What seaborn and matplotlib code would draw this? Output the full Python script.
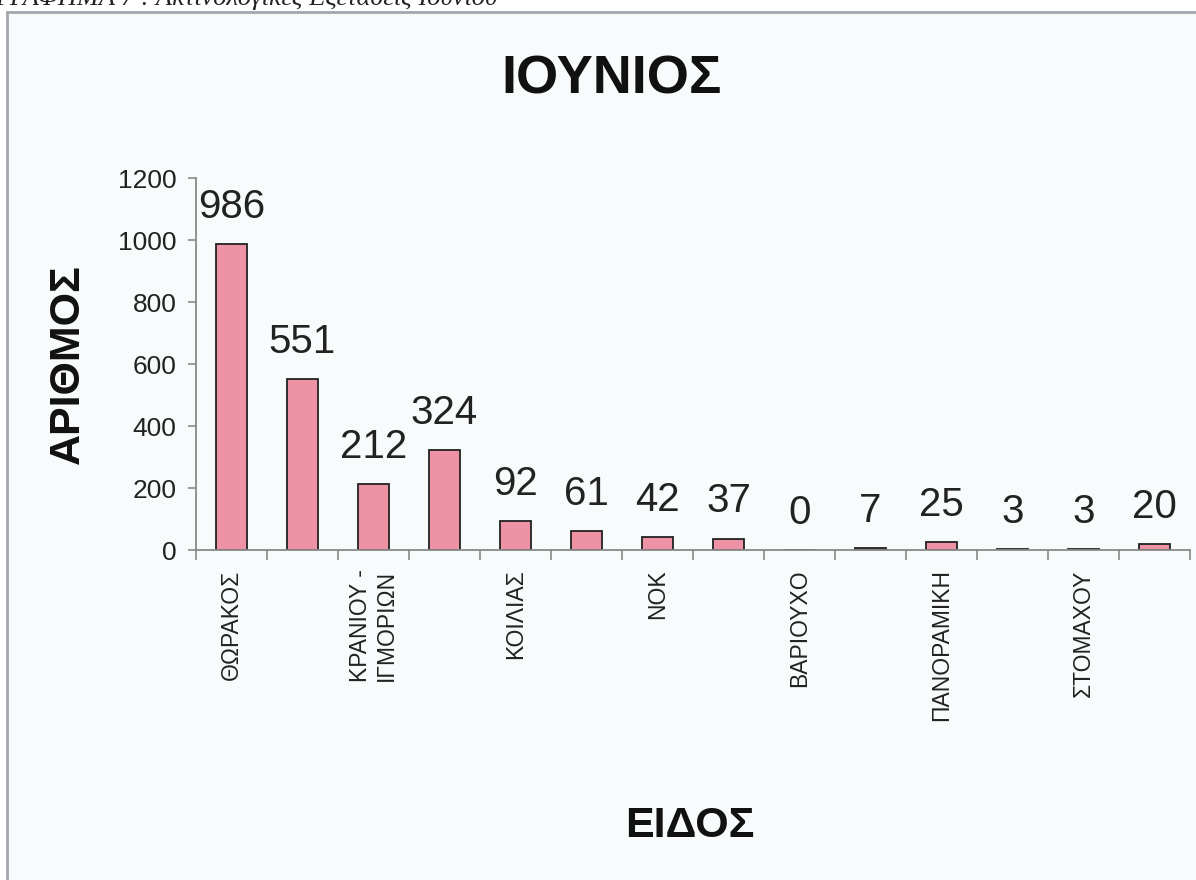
import matplotlib
matplotlib.use("Agg")
import matplotlib.pyplot as plt
from matplotlib.patches import Rectangle
import seaborn as sns
import pandas as pd

# values (June radiology exams)
counts = [986, 551, 212, 324, 92, 61, 42, 37, 0, 7, 25, 3, 3, 20]
# only every other category name is printed on the original axis
tick_labels = ["ΘΩΡΑΚΟΣ", "", "ΚΡΑΝΙΟΥ -\nΙΓΜΟΡΙΩΝ", "", "ΚΟΙΛΙΑΣ", "", "ΝΟΚ", "",
               "ΒΑΡΙΟΥΧΟ", "", "ΠΑΝΟΡΑΜΙΚΗ", "", "ΣΤΟΜΑΧΟΥ", ""]
y_ticks = [0, 200, 400, 600, 800, 1000, 1200]

bar_color = "#ee92a5"
axis_grey = "#8a8a8a"

sns.set_theme(style="white")
plt.rcParams['font.family'] = ['Liberation Sans', 'DejaVu Sans']

df = pd.DataFrame({"pos": list(range(len(counts))), "count": counts})

fig = plt.figure(figsize=(11.96, 8.8), dpi=100, facecolor="white")

# outer chart frame, cut off on the right and bottom like the scan
frame = Rectangle((7 / 1196, -0.05), 1.1, 1 - 12 / 880 + 0.05, transform=fig.transFigure,
                  facecolor="#f8fbfc", edgecolor="#a4a6ae", linewidth=2, zorder=-5)
fig.patches.append(frame)

# caption from the page above the chart, mostly cropped
fig.text(-0.004, 1 - 5 / 880, "ΓΡΑΦΗΜΑ 7 : Ακτινολογικές Εξετάσεις Ιουνίου",
         family=["Liberation Serif", "DejaVu Serif"], style="italic",
         fontsize=19, va="baseline", ha="left", color="#222222")

ax = fig.add_axes([196 / 1196, 1 - 550 / 880, 994 / 1196, 372 / 880])
ax.set_facecolor("none")
ax.set_zorder(2)

sns.barplot(data=df, x="pos", y="count", ax=ax, color=bar_color, width=0.45,
            edgecolor="#222222", linewidth=1.3, saturation=1)

ax.bar_label(ax.containers[0], labels=[str(v) for v in counts], padding=13,
             fontsize=29, color="#222222")

ax.set_ylim(0, 1200)
ax.set_xlim(-0.5, len(counts) - 0.5)
ax.set_yticks(y_ticks)
ax.set_yticklabels([str(v) for v in y_ticks], fontsize=19, color="#222222")

# boundary ticks like Excel, labels under the bars
ax.set_xticks([i - 0.5 for i in range(len(counts) + 1)])
ax.set_xticklabels([])
ax.set_xticks(list(range(len(counts))), minor=True)
ax.set_xticklabels(tick_labels, minor=True, rotation=90, fontsize=16.5,
                   va="top", ha="center", multialignment="right", color="#222222")
ax.tick_params(axis="x", which="major", direction="out", length=7, width=1.2,
               color=axis_grey, bottom=True)
ax.tick_params(axis="x", which="minor", length=0, pad=14)
ax.tick_params(axis="y", direction="out", length=6, width=1.2, color=axis_grey,
               left=True, pad=8)

for side in ["top", "right"]:
    ax.spines[side].set_visible(False)
for side in ["left", "bottom"]:
    ax.spines[side].set_color(axis_grey)
    ax.spines[side].set_linewidth(1.3)

ax.set_ylabel("ΑΡΙΘΜΟΣ", fontsize=31, fontweight="bold", color="#111111", va="center")
ax.yaxis.set_label_coords(-0.129, 0.5)
ax.set_xlabel("ΕΙΔΟΣ", fontsize=31, fontweight="bold", color="#111111", va="center")
ax.xaxis.set_label_coords(0.497, -0.742)

fig.text(612 / 1196, 1 - 80 / 880, "ΙΟΥΝΙΟΣ", fontsize=39, fontweight="bold",
         ha="center", va="center", color="#111111")

fig.savefig("out.png", dpi=100, facecolor=fig.get_facecolor())
